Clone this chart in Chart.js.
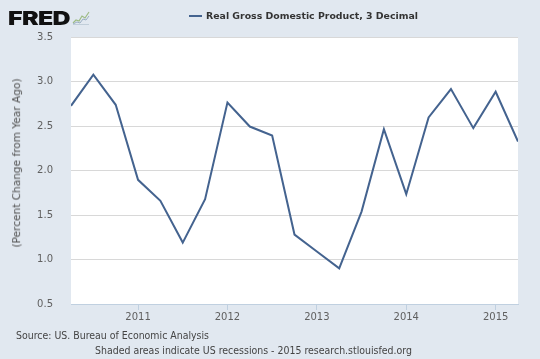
<!DOCTYPE html>
<html><head><meta charset="utf-8">
<script src="https://cdn.jsdelivr.net/npm/chart.js@4/dist/chart.umd.min.js"></script>
<style>
html,body{margin:0;padding:0;background:#e1e8f0;}
#wrap{position:relative;width:540px;height:359px;overflow:hidden;background:#e1e8f0;}
canvas{position:absolute;left:0;top:0;}
.t{position:absolute;white-space:nowrap;font-family:"DejaVu Sans",Verdana,sans-serif;line-height:1;}
#logo{font-family:Inter,"DejaVu Sans",sans-serif;font-weight:900;font-size:19px;color:#111;letter-spacing:-0.5px;}
#leg{font-weight:bold;font-size:9.5px;color:#333;}
#ytitle{font-size:10px;color:#505050;}
#src,#shade{font-size:10px;color:#444;}
#legline{position:absolute;left:189px;top:15px;width:13px;height:2px;background:#44638f;}
#icon{position:absolute;left:72px;top:10px;}
</style></head><body>
<div id="wrap">
<canvas id="c" width="540" height="359"></canvas>
<div class="t" id="logo">FRED</div>
<svg id="icon" width="18" height="15" viewBox="0 0 18 15">
  <polyline points="1,13 4,10 7,11 10,6 13,8 17,2" fill="none" stroke="#9dbb84" stroke-width="1.2"/>
  <polyline points="1,14 5,12 8,13 11,9 14,10 17,6" fill="none" stroke="#9aaec2" stroke-width="1"/>
  <line x1="1" y1="14.5" x2="17" y2="14.5" stroke="#b9c6d3" stroke-width="0.8"/>
</svg>
<div id="legline"></div>
<div class="t" id="leg">Real Gross Domestic Product, 3 Decimal</div>
<div class="t" id="ytitle">(Percent Change from Year Ago)</div>
<div class="t" id="src">Source: US. Bureau of Economic Analysis</div>
<div class="t" id="shade">Shaded areas indicate US recessions - 2015 research.stlouisfed.org</div>
</div>
<script>
// ---- data ----
const quarterDates = [
  '2010-04-01','2010-07-01','2010-10-01',
  '2011-01-01','2011-04-01','2011-07-01','2011-10-01',
  '2012-01-01','2012-04-01','2012-07-01','2012-10-01',
  '2013-01-01','2013-04-01','2013-07-01','2013-10-01',
  '2014-01-01','2014-04-01','2014-07-01','2014-10-01',
  '2015-01-01','2015-04-01'
];
const gdpPctChange = [
  2.727, 3.076, 2.738,
  1.895, 1.659, 1.190, 1.678,
  2.764, 2.494, 2.393, 1.280,
  1.090, 0.900, 1.538, 2.465,
  1.734, 2.596, 2.915, 2.476,
  2.885, 2.326
];
const yearTicks = [2011, 2012, 2013, 2014, 2015];
const yMin = 0.5, yMax = 3.5, yStep = 0.5;

function toYear(s){ const p = s.split('-'); return +p[0] + (+p[1]-1)/12; }
const points = quarterDates.map((d,i)=>({x: toYear(d), y: gdpPctChange[i]}));

const FONT = '"DejaVu Sans", Verdana, sans-serif';
const plotBg = {
  id:'plotBg',
  beforeDraw(chart){
    const a = chart.chartArea, ctx = chart.ctx;
    ctx.save(); ctx.fillStyle = '#ffffff';
    ctx.fillRect(a.left, a.top, a.right-a.left, a.bottom-a.top);
    ctx.restore();
  }
};

new Chart(document.getElementById('c'), {
  type:'line',
  data:{ datasets:[{
    data: points,
    borderColor:'#44638f', borderWidth:2, pointRadius:0, tension:0, fill:false
  }]},
  options:{
    responsive:false, animation:false, devicePixelRatio:1,
    layout:{ padding:{ left:0, right:22, top:37, bottom:0 } },
    plugins:{ legend:{display:false}, tooltip:{enabled:false} },
    scales:{
      x:{
        type:'linear',
        min: toYear(quarterDates[0]), max: toYear(quarterDates[quarterDates.length-1]),
        afterBuildTicks: s => { s.ticks = yearTicks.map(v=>({value:v})); },
        afterFit: s => { s.height = 55; },
        ticks:{ callback: v => String(v), font:{family:FONT, size:10}, color:'#606060', padding:1, maxRotation:0, autoSkip:false },
        grid:{ drawOnChartArea:false, drawTicks:true, tickLength:6, color:'#c0d0e0' },
        border:{ display:true, color:'#c0d0e0' }
      },
      y:{
        min:yMin, max:yMax,
        afterFit: s => { s.width = 71; },
        ticks:{ stepSize:yStep, callback: v => v.toFixed(1), font:{family:FONT, size:10}, color:'#606060', padding:18 },
        grid:{ color:'#d8d8d8', drawTicks:false },
        border:{ display:false }
      }
    }
  },
  plugins:[plotBg]
});

// ---- fit overlay texts ----
function fit(id, left, width, cy){
  const el = document.getElementById(id);
  const r = el.getBoundingClientRect();
  el.style.transformOrigin = '0 50%';
  el.style.transform = 'scaleX(' + (width / r.width) + ')';
  el.style.left = left + 'px';
  el.style.top = (cy - r.height/2) + 'px';
}
function fitRot(id, cx, cy, len){
  const el = document.getElementById(id);
  const r = el.getBoundingClientRect();
  el.style.transformOrigin = '50% 50%';
  el.style.left = (cx - r.width/2) + 'px';
  el.style.top = (cy - r.height/2) + 'px';
  el.style.transform = 'rotate(-90deg) scaleX(' + (len / r.width) + ')';
}
fit('logo', 8, 62, 18.5);
fit('leg', 206, 212, 16);
fit('src', 16, 193, 335.5);
fit('shade', 95, 317, 351);
fitRot('ytitle', 17.5, 162.5, 169);
</script>
</body></html>
